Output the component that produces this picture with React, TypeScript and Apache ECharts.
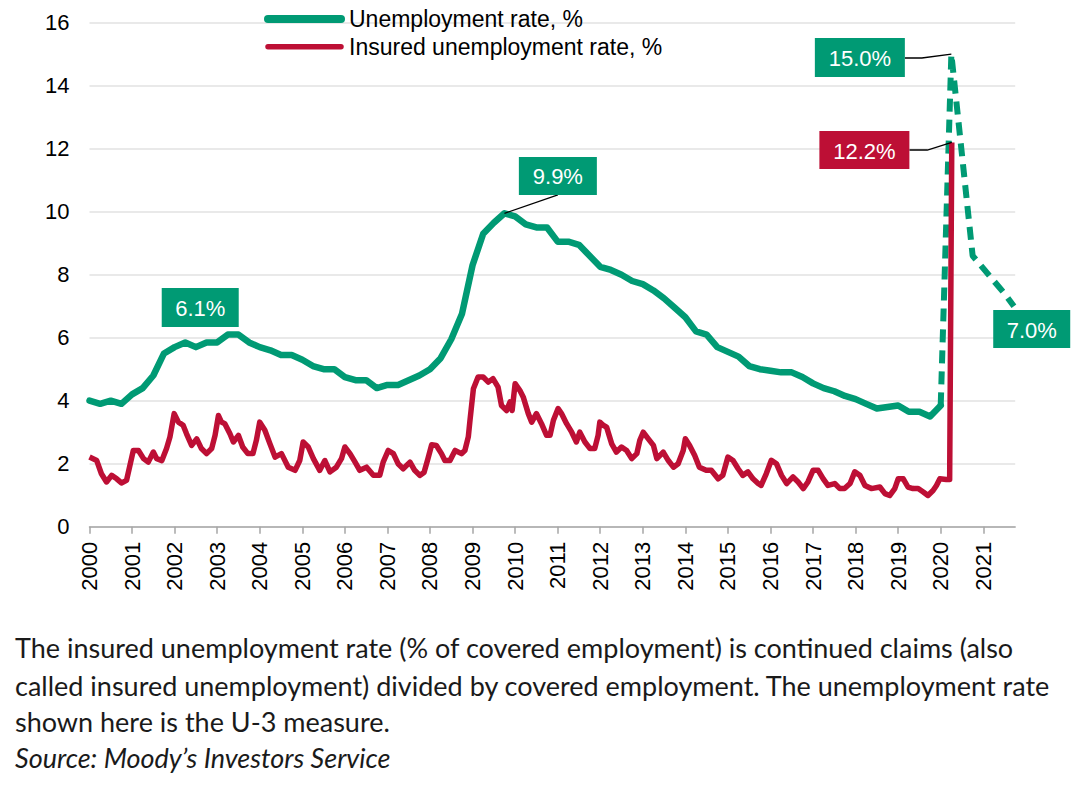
import React, { useEffect, useRef } from 'react';
import * as echarts from 'echarts';

const GREEN = '#009a74';
const RED = '#bd0f35';
const AXIS_FONT = "'Liberation Sans', Arial, sans-serif";

// x-axis year labels
const yearLabels = [2000, 2001, 2002, 2003, 2004, 2005, 2006, 2007, 2008, 2009, 2010,
  2011, 2012, 2013, 2014, 2015, 2016, 2017, 2018, 2019, 2020, 2021];

// Unemployment rate (U-3), quarterly from 2000 Q1 to 2020 Q1
const unempStart = 2000;
const unempQuarterly = [
  4.0, 3.9, 4.0, 3.9,
  4.2, 4.4, 4.8, 5.5,
  5.7, 5.85, 5.7, 5.85,
  5.85, 6.1, 6.1, 5.85,
  5.7, 5.6, 5.45, 5.45,
  5.3, 5.1, 5.0, 5.0,
  4.75, 4.65, 4.65, 4.4,
  4.5, 4.5, 4.65, 4.8,
  5.0, 5.35, 5.95, 6.75,
  8.3, 9.3, 9.65, 9.95,
  9.85, 9.6, 9.5, 9.5,
  9.05, 9.05, 8.95, 8.6,
  8.25, 8.15, 8.0, 7.8,
  7.7, 7.5, 7.25, 6.95,
  6.65, 6.2, 6.1, 5.7,
  5.55, 5.4, 5.1, 5.0,
  4.95, 4.9, 4.9, 4.75,
  4.55, 4.4, 4.3, 4.15,
  4.05, 3.9, 3.75, 3.8,
  3.85, 3.65, 3.65, 3.5,
  3.85,
];

// Unemployment rate, projected path (dashed)
const forecastT = [2020.25, 2020.5, 2020.75, 2021.0, 2021.25, 2021.5, 2021.72];
const forecastV = [15.0, 11.8, 8.6, 8.2, 7.8, 7.4, 7.0];

// Insured unemployment rate
const insuredT = [
  2000.0, 2000.17, 2000.28, 2000.4, 2000.52, 2000.64, 2000.75, 2000.87, 2000.95,
  2001.03, 2001.15, 2001.27, 2001.38, 2001.5, 2001.58, 2001.7, 2001.81, 2001.89,
  2001.99, 2002.09, 2002.2, 2002.28, 2002.4, 2002.52, 2002.63, 2002.75, 2002.87, 2002.95,
  2003.03, 2003.1, 2003.18, 2003.3, 2003.38, 2003.5, 2003.6, 2003.72, 2003.84, 2003.92,
  2004.0, 2004.12, 2004.24, 2004.36, 2004.51, 2004.67, 2004.83, 2004.94,
  2005.02, 2005.14, 2005.26, 2005.41, 2005.53, 2005.65, 2005.8, 2005.92,
  2006.0, 2006.12, 2006.24, 2006.35, 2006.51, 2006.67, 2006.82, 2006.9,
  2007.02, 2007.14, 2007.25, 2007.37, 2007.53, 2007.64, 2007.76, 2007.86, 2007.95,
  2008.04, 2008.15, 2008.27, 2008.35, 2008.47, 2008.59, 2008.74, 2008.82, 2008.9, 2008.94,
  2009.02, 2009.13, 2009.25, 2009.37, 2009.48, 2009.6, 2009.68, 2009.8, 2009.88, 2009.93,
  2010.0, 2010.11, 2010.19, 2010.31, 2010.39, 2010.5, 2010.62, 2010.74, 2010.82, 2010.9,
  2011.01, 2011.09, 2011.21, 2011.33, 2011.44, 2011.52, 2011.64, 2011.76, 2011.87, 2011.95,
  2011.99, 2012.07, 2012.15, 2012.27, 2012.38, 2012.5, 2012.62, 2012.74, 2012.86, 2012.93,
  2013.01, 2013.13, 2013.25, 2013.33, 2013.48, 2013.6, 2013.72, 2013.83, 2013.95,
  2014.0, 2014.1, 2014.22, 2014.33, 2014.49, 2014.61, 2014.77, 2014.88,
  2015.0, 2015.12, 2015.24, 2015.35, 2015.47, 2015.59, 2015.71, 2015.78, 2015.9,
  2016.02, 2016.14, 2016.26, 2016.38, 2016.53, 2016.65, 2016.77, 2016.88,
  2017.0, 2017.12, 2017.24, 2017.35, 2017.51, 2017.63, 2017.74, 2017.87, 2017.98,
  2018.1, 2018.22, 2018.37, 2018.57, 2018.69, 2018.8, 2018.92,
  2019.0, 2019.12, 2019.23, 2019.35, 2019.47, 2019.59, 2019.7, 2019.82, 2019.9, 2019.98,
  2020.13, 2020.21, 2020.26,
];
const insuredV = [
  2.21, 2.1, 1.68, 1.42, 1.63, 1.52, 1.39, 1.47, 1.95,
  2.42, 2.42, 2.16, 2.05, 2.37, 2.16, 2.1, 2.48, 2.85,
  3.59, 3.32, 3.22, 2.95, 2.58, 2.79, 2.48, 2.32, 2.48, 2.9,
  3.53, 3.32, 3.27, 2.95, 2.69, 2.9, 2.53, 2.32, 2.32, 2.74,
  3.32, 3.06, 2.63, 2.21, 2.32, 1.89, 1.79, 2.1,
  2.69, 2.53, 2.16, 1.79, 2.1, 1.74, 1.89, 2.16,
  2.53, 2.32, 2.05, 1.79, 1.89, 1.63, 1.63, 2.05,
  2.42, 2.32, 2.0, 1.84, 2.05, 1.79, 1.63, 1.72, 2.15,
  2.6, 2.58, 2.32, 2.1, 2.1, 2.42, 2.32, 2.42, 2.85, 3.38,
  4.38, 4.75, 4.75, 4.59, 4.7, 4.43, 3.85, 3.69, 3.96, 3.69,
  4.54, 4.33, 4.12, 3.59, 3.32, 3.59, 3.27, 2.9, 2.9, 3.38,
  3.75, 3.59, 3.27, 3.0, 2.69, 3.0, 2.69, 2.48, 2.48, 2.9,
  3.32, 3.22, 3.16, 2.63, 2.37, 2.53, 2.42, 2.16, 2.32, 2.74,
  3.0, 2.79, 2.58, 2.16, 2.37, 2.1, 1.89, 2.0, 2.42,
  2.79, 2.58, 2.26, 1.89, 1.79, 1.79, 1.52, 1.63,
  2.21, 2.1, 1.84, 1.63, 1.74, 1.52, 1.37, 1.31, 1.68,
  2.11, 2.0, 1.63, 1.37, 1.58, 1.42, 1.21, 1.42,
  1.79, 1.79, 1.52, 1.31, 1.37, 1.21, 1.21, 1.37, 1.74,
  1.63, 1.31, 1.21, 1.26, 1.05, 0.99, 1.21,
  1.52, 1.52, 1.26, 1.21, 1.21, 1.1, 0.99, 1.15, 1.31, 1.52,
  1.5, 1.5, 12.2,
];

const seriesNames = ['Unemployment rate, %', 'Insured unemployment rate, %'];
const noteLines = [
  'The insured unemployment rate (% of covered employment) is continued claims (also',
  'called insured unemployment) divided by covered employment. The unemployment rate',
  'shown here is the U-3 measure.',
];
const sourceLine = 'Source: Moody\u2019s Investors Service';

export default function App() {
  const ref = useRef<HTMLDivElement>(null);

  useEffect(() => {
    document.body.style.margin = '0';
    if (!ref.current) return;
    const chart = echarts.init(ref.current, null, { renderer: 'svg' });

    const unempData = unempQuarterly.map((v, i) => [unempStart + i / 4, v]);
    const last = unempData[unempData.length - 1];
    const forecastData = [last, ...forecastT.map((t, i) => [t, forecastV[i]])];
    const insuredData = insuredT.map((t, i) => [t, insuredV[i]]);

    chart.setOption({
      animation: false,
      grid: { left: 89.5, right: 64.8, top: 22.7, bottom: 258.3, containLabel: false },
      xAxis: {
        type: 'value',
        min: 2000,
        max: 2021.75,
        interval: 1,
        axisLine: { show: true, lineStyle: { color: '#a6a6a6', width: 1.5 } },
        axisTick: {
          show: true, length: 7, inside: false,
          lineStyle: { color: '#a6a6a6', width: 1.5 },
          customValues: yearLabels,
        },
        axisLabel: {
          rotate: 90,
          margin: 15,
          color: '#000',
          fontSize: 22,
          fontFamily: AXIS_FONT,
          customValues: yearLabels,
          formatter: (v: number) => (Number.isInteger(v) ? String(v) : ''),
        },
        splitLine: { show: false },
      },
      yAxis: {
        type: 'value',
        min: 0,
        max: 16,
        interval: 2,
        axisLine: { show: false },
        axisTick: { show: false },
        axisLabel: { margin: 20, color: '#000', fontSize: 22, fontFamily: AXIS_FONT },
        splitLine: { show: true, lineStyle: { color: '#e2e2e2', width: 1.5 } },
      },
      series: [
        {
          name: seriesNames[0],
          type: 'line',
          data: unempData,
          symbol: 'none',
          lineStyle: { color: GREEN, width: 6.5, join: 'round', cap: 'round' },
          z: 2,
        },
        {
          name: seriesNames[0] + ' (projection)',
          type: 'line',
          data: forecastData,
          symbol: 'none',
          lineStyle: { color: GREEN, width: 6, type: [13, 8], join: 'round' },
          z: 2,
        },
        {
          name: seriesNames[1],
          type: 'line',
          data: insuredData,
          symbol: 'none',
          lineStyle: { color: RED, width: 5.5, join: 'round' },
          z: 3,
        },
      ],
    });

    const px = (x: number, y: number) => chart.convertToPixel({ gridIndex: 0 }, [x, y]) as number[];

    const peak61 = unempData[13];
    const peak99 = unempData[39];
    const peak150 = forecastData[1];
    const peak122 = insuredData[insuredData.length - 1];
    const end70 = forecastData[forecastData.length - 1];

    type Callout = {
      text: string; anchor: number[]; color: string; dx: number; dy: number; w: number; h: number;
      leader?: number[][];
    };
    const callouts: Callout[] = [
      { text: '6.1%', anchor: peak61, color: GREEN, dx: -27.6, dy: -27, w: 77, h: 39 },
      { text: '9.9%', anchor: peak99, color: GREEN, dx: 53.4, dy: -37.3, w: 78, h: 38,
        leader: [[0, 0], [53.4, -18.3]] },
      { text: '15.0%', anchor: peak150, color: GREEN, dx: -91.5, dy: 3.3, w: 90, h: 39,
        leader: [[0, 0], [-29.5, 3.8], [-46.5, 3.8]] },
      { text: '12.2%', anchor: peak122, color: RED, dx: -87.4, dy: 7.6, w: 90, h: 38,
        leader: [[0, 0], [-24.4, 7.6], [-42.4, 7.6]] },
      { text: '7.0%', anchor: end70, color: GREEN, dx: 17.8, dy: 22.8, w: 77, h: 38 },
    ];

    const graphics: any[] = [];
    callouts.forEach((c) => {
      const [ax, ay] = px(c.anchor[0], c.anchor[1]);
      if (c.leader) {
        graphics.push({
          type: 'polyline',
          shape: { points: c.leader.map(([lx, ly]) => [ax + lx, ay + ly]) },
          style: { stroke: '#000', lineWidth: 1.3, fill: null },
          z: 10,
        });
      }
      const cx = ax + c.dx;
      const cy = ay + c.dy;
      graphics.push({
        type: 'rect',
        shape: { x: cx - c.w / 2, y: cy - c.h / 2, width: c.w, height: c.h },
        style: { fill: c.color },
        z: 11,
      });
      graphics.push({
        type: 'text',
        style: {
          text: c.text, x: cx, y: cy + 1, align: 'center', verticalAlign: 'middle',
          fill: '#fff', font: `22px ${AXIS_FONT}`,
        },
        z: 12,
      });
    });

    // legend
    const legendColors = [GREEN, RED];
    const legendWidths = [8, 5.5];
    const legendY = [19, 46.7];
    seriesNames.forEach((name, i) => {
      graphics.push({
        type: 'line',
        shape: { x1: 268, y1: legendY[i], x2: 341, y2: legendY[i] },
        style: { stroke: legendColors[i], lineWidth: legendWidths[i], lineCap: 'round' },
        z: 10,
      });
      graphics.push({
        type: 'text',
        style: {
          text: name, x: 349, y: legendY[i], align: 'left', verticalAlign: 'middle',
          fill: '#000', font: `23px ${AXIS_FONT}`,
        },
        z: 10,
      });
    });

    // notes
    const noteY = [647, 685, 721];
    noteLines.forEach((t, i) => {
      graphics.push({
        type: 'text',
        style: {
          text: t, x: 15, y: noteY[i], align: 'left', verticalAlign: 'middle',
          fill: '#1a1a1a', font: `27px Lato, 'Open Sans', sans-serif`,
        },
      });
    });
    graphics.push({
      type: 'text',
      style: {
        text: sourceLine, x: 15, y: 757, align: 'left', verticalAlign: 'middle',
        fill: '#1a1a1a', font: `italic 27px Lato, 'Open Sans', sans-serif`,
      },
    });

    chart.setOption({ graphic: graphics });

    return () => chart.dispose();
  }, []);

  return <div ref={ref} style={{ width: 1080, height: 785 }} />;
}
